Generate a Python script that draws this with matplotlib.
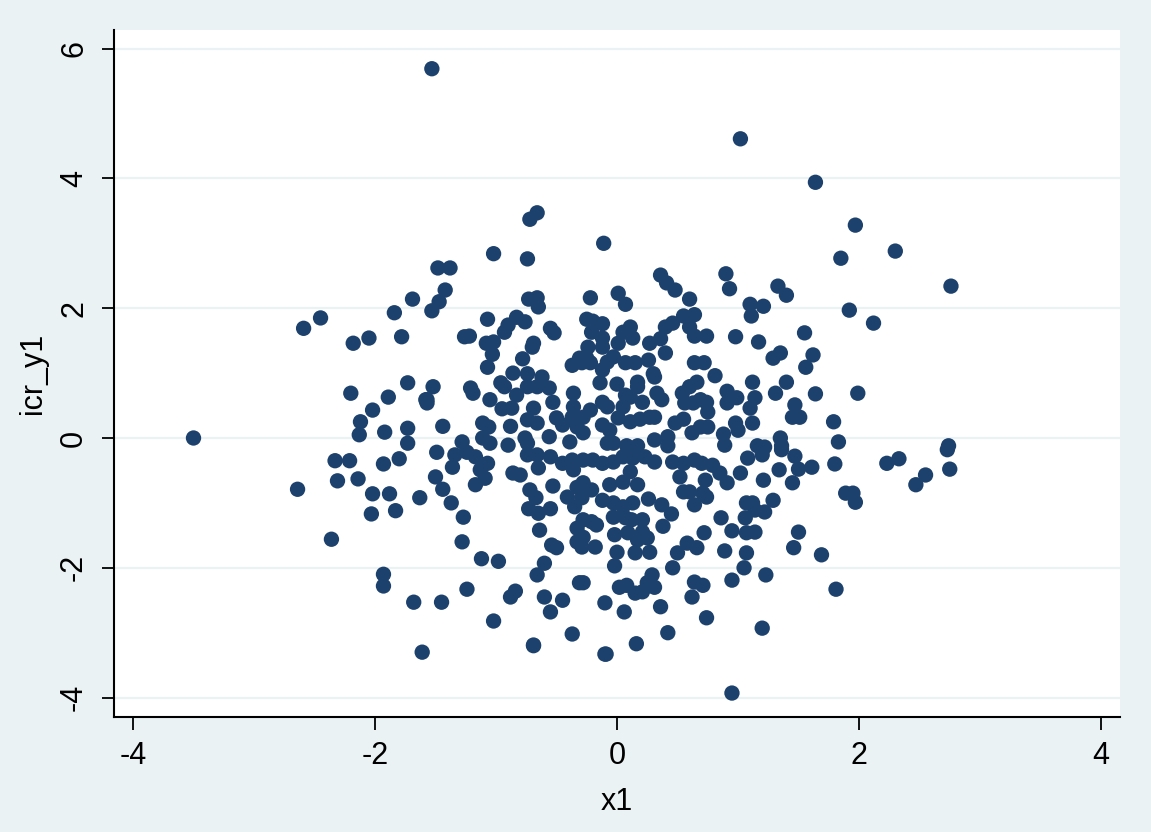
import matplotlib
matplotlib.use("Agg")
import matplotlib.pyplot as plt
import numpy as np

plt.rcParams['font.family'] = ['Liberation Sans', 'DejaVu Sans']

# Point positions (pixel estimates), converted to data units below
px = [432,740,815,855,530,537,604,493,528,438,450,445,413,439,432,394,529,537,538,487,517,525,508,505,550,554,402,464,469,486,494,492,534,532,523,487,572,580,408,433,427,427,470,473,501,505,513,527,542,537,527,549,516,490,553,502,512,533,527,537,573,573,557,563,572,577,408,443,483,489,511,408,462,483,490,508,525,528,549,570,437,
      660,667,675,726,730,590,618,625,690,750,751,763,587,593,602,592,630,623,633,618,603,602,588,587,582,590,666,673,683,695,690,695,707,650,660,665,736,758,613,607,602,600,625,635,648,653,655,637,638,617,695,704,715,697,690,682,685,693,700,707,708,753,727,737,727,755,750,657,662,625,630,623,642,603,607,590,583,618,630,640,650,655,603,610,675,684,692,700,708,723,735,738,753,583,607,613,627,638,655,668,668,725,757,765,
      841,895,951,778,787,849,874,805,780,773,813,806,787,775,816,858,795,792,800,833,780,782,838,948,
      455,467,475,487,480,485,475,513,520,527,537,538,553,530,536,529,538,550,539,552,557,544,537,545,562,550,533,572,577,577,580,482,498,510,515,467,494,550,563,572,573,567,575,577,
      583,593,603,613,623,633,645,655,673,683,695,702,712,720,727,741,748,763,762,680,683,690,705,703,707,695,583,592,582,610,623,630,637,603,613,623,633,648,662,672,613,625,632,642,583,592,597,615,628,643,647,638,583,582,595,617,635,650,663,704,687,677,697,673,721,745,732,747,755,725,747,744,766,732,747,753,755,765,615,583,620,627,635,643,652,655,647,695,703,692,605,624,660,707,762,668,636,606,
      782,795,779,798,812,835,793,887,899,925,916,950,947,846,853,855,773,799,794,821,836,
      304,320,353,369,351,388,372,361,359,385,426,335,349,383,399,453,338,358,298,373,389,371,331,384,383,414,441,422,194,436,443,420,451,395,463,462,732,605,533]
py = [69,139,182,225,219,213,243,254,259,268,268,290,299,302,311,313,299,298,307,319,317,322,325,332,328,333,337,337,336,343,342,354,343,347,359,367,365,358,383,387,400,403,388,393,383,387,373,374,377,387,387,388,395,400,402,409,408,408,420,423,393,407,418,425,417,427,428,426,423,427,426,443,442,438,443,445,438,443,437,442,452,
      275,283,290,274,289,298,293,304,299,304,316,306,319,321,324,332,327,332,338,343,338,347,347,358,363,363,327,323,316,315,327,336,336,343,339,353,337,342,357,362,370,383,363,363,360,374,377,382,387,384,363,363,376,382,387,393,403,403,400,402,412,382,391,398,403,398,408,393,400,395,397,407,402,402,407,410,417,418,422,419,417,417,425,430,423,419,433,427,427,434,423,430,423,433,443,443,446,446,440,437,446,445,446,447,
      258,251,286,286,295,310,323,333,353,358,355,367,382,393,394,393,405,417,417,422,438,446,442,446,
      455,452,457,463,470,478,485,473,475,455,455,468,486,490,498,509,513,509,530,545,548,563,575,597,600,612,646,634,528,542,583,559,561,597,591,589,621,457,463,460,470,497,507,487,
      460,460,463,462,457,458,457,462,462,463,460,463,465,473,483,473,458,480,455,477,492,492,480,493,497,505,483,490,498,485,482,472,485,500,503,507,503,499,505,514,517,518,520,520,520,522,525,535,533,532,538,540,537,547,547,552,553,552,526,533,543,553,548,568,518,518,531,533,532,551,553,568,575,580,503,503,510,512,566,583,587,585,593,592,575,587,583,582,585,597,603,612,607,618,628,633,644,654,
      450,456,470,469,467,464,483,463,459,475,485,469,450,493,493,502,500,532,548,555,589,
      328,318,343,338,393,397,410,422,435,432,400,461,461,464,459,467,481,479,489,494,494,514,539,574,586,602,602,652,438,477,489,498,503,511,517,542,693,654,645]

X0_PX, X_SCALE = 617.0, 121.0
Y0_PX, Y_SCALE = 438.0, 64.9
x1 = [round((p - X0_PX) / X_SCALE, 2) for p in px]
icr_y1 = [round((Y0_PX - p) / Y_SCALE, 2) for p in py]

xticks = [-4, -2, 0, 2, 4]
yticks = [-4, -2, 0, 2, 4, 6]

bg = '#EAF2F3'
navy = '#1D416D'

W, H = 1151, 832
L, R, T, B = 114, 1120, 30, 717
fig = plt.figure(figsize=(W/100, H/100), dpi=100, facecolor=bg)
ax = fig.add_axes([L/W, 1 - B/H, (R-L)/W, (B-T)/H])
ax.set_facecolor('white')

for yt in yticks:
    ax.axhline(yt, color=bg, lw=1.6, zorder=0)

ax.scatter(x1, icr_y1, s=122, color=navy, edgecolors='none', zorder=3)

ax.set_xlim((L - X0_PX) / X_SCALE, (R - X0_PX) / X_SCALE)
ax.set_ylim((Y0_PX - B) / Y_SCALE, (Y0_PX - T) / Y_SCALE)
ax.set_xticks(xticks)
ax.set_yticks(yticks)
ax.set_xticklabels([str(t) for t in xticks], fontsize=22)
ax.set_yticklabels([str(t) for t in yticks], fontsize=22, rotation=90, va='center')
ax.tick_params(axis='both', direction='out', length=9, width=1.3, color='black')
ax.tick_params(axis='x', pad=8)
ax.tick_params(axis='y', pad=9)
ax.spines['top'].set_visible(False)
ax.spines['right'].set_visible(False)
for s in ('left', 'bottom'):
    ax.spines[s].set_linewidth(1.5)
    ax.spines[s].set_color('black')

ax.set_xlabel('x1', fontsize=22, labelpad=12)
ax.set_ylabel('icr_y1', fontsize=22, labelpad=8)

fig.savefig('out.png', dpi=100, facecolor=bg)
